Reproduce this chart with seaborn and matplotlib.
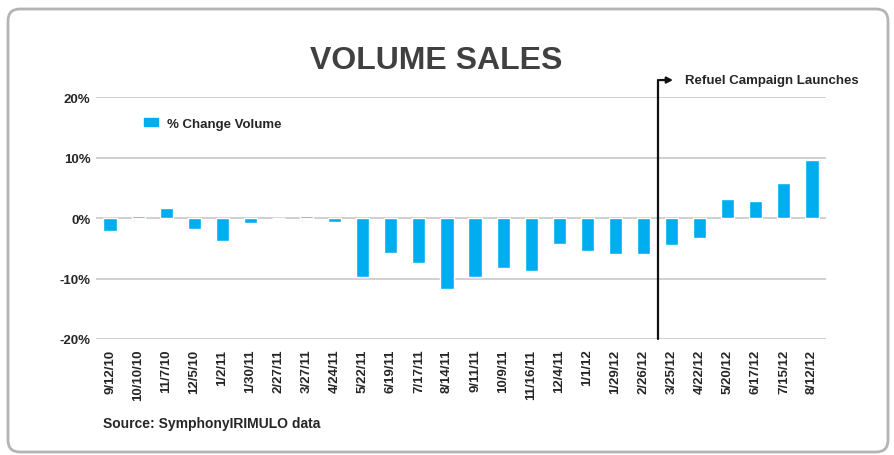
import numpy as np
import pandas as pd
import matplotlib
matplotlib.use("Agg")
import matplotlib.pyplot as plt
from matplotlib.patches import FancyBboxPatch, Patch
import seaborn as sns

# data
dates = ["9/12/10", "10/10/10", "11/7/10", "12/5/10", "1/2/11", "1/30/11",
         "2/27/11", "3/27/11", "4/24/11", "5/22/11", "6/19/11", "7/17/11",
         "8/14/11", "9/11/11", "10/9/11", "11/16/11", "12/4/11", "1/1/12",
         "1/29/12", "2/26/12", "3/25/12", "4/22/12", "5/20/12", "6/17/12",
         "7/15/12", "8/12/12"]
pct_change = [-2.1, 0.3, 1.7, -1.8, -3.85, -0.8,
              0.0, 0.3, -0.6, -9.7, -5.8, -7.4,
              -11.7, -9.7, -8.2, -8.8, -4.3, -5.4,
              -5.9, -5.9, -4.4, -3.3, 3.2, 2.8,
              5.8, 9.6]
yticks = [-20, -10, 0, 10, 20]
launch_date = "3/25/12"

df = pd.DataFrame({"date": dates, "change": pct_change})

sns.set_style("white")
plt.rcParams["font.family"] = ["Liberation Sans", "DejaVu Sans"]
plt.rcParams["font.weight"] = "bold"

bar_color = "#00AEEF"

fig = plt.figure(figsize=(8.95, 4.56), dpi=100)
ax = fig.add_axes([96 / 895, 1 - 340 / 456, 730 / 895, 242 / 456])

sns.barplot(data=df, x="date", y="change", order=dates, color=bar_color,
            width=0.47, saturation=1, ax=ax, zorder=3)

ax.set_ylim(-20, 20)
ax.set_xlim(-0.5, len(dates) - 0.5)
ax.set_yticks(yticks)
ax.set_yticklabels([f"{t}%" for t in yticks], fontsize=9.5, fontweight="bold")
ax.set_xticks(range(len(dates)))
ax.set_xticklabels(dates, rotation=90, fontsize=9.5, fontweight="bold")
ax.tick_params(axis="both", length=0)
ax.tick_params(axis="y", pad=4)
ax.tick_params(axis="x", pad=7)
ax.set_xlabel("")
ax.set_ylabel("")
for s in ax.spines.values():
    s.set_visible(False)
ax.grid(axis="y", color="#c8c8c8", linewidth=1.2, zorder=0)
ax.set_axisbelow(True)

ax.legend(handles=[Patch(color=bar_color, label="% Change Volume")],
          loc="center left", bbox_to_anchor=(0.066, 0.89), frameon=False,
          borderpad=0, borderaxespad=0,
          fontsize=9.5, handlelength=1.05, handleheight=0.55, handletextpad=0.7)

# campaign launch marker
launch = dates.index(launch_date) - 0.5
top = 22.8
ax.plot([launch, launch], [-20, top], color="#111111", linewidth=1.6,
        clip_on=False, zorder=4)
ax.annotate("", xy=(launch + 0.65, top), xytext=(launch - 0.03, top),
            arrowprops=dict(arrowstyle="-|>,head_length=0.35,head_width=0.18",
                            color="#111111", linewidth=1.6),
            annotation_clip=False)
ax.text(launch + 0.98, top, "Refuel Campaign Launches", fontsize=9.5,
        fontweight="bold", va="center", ha="left", clip_on=False)

fig.text(0.487, 1 - 61 / 456, "VOLUME SALES", fontsize=23, fontweight="bold",
         color="#404040", ha="center", va="center")
fig.text(103 / 895, 1 - 424 / 456, "Source: SymphonyIRIMULO data", fontsize=10,
         fontweight="bold", ha="left", va="center")

frame = FancyBboxPatch((0.08, 0.03), 8.80, 4.43,
                       boxstyle="round,pad=0,rounding_size=0.12",
                       transform=fig.dpi_scale_trans, facecolor="none",
                       edgecolor="#b4b4b4", linewidth=2)
fig.patches.append(frame)

fig.savefig("out.png", dpi=100)
